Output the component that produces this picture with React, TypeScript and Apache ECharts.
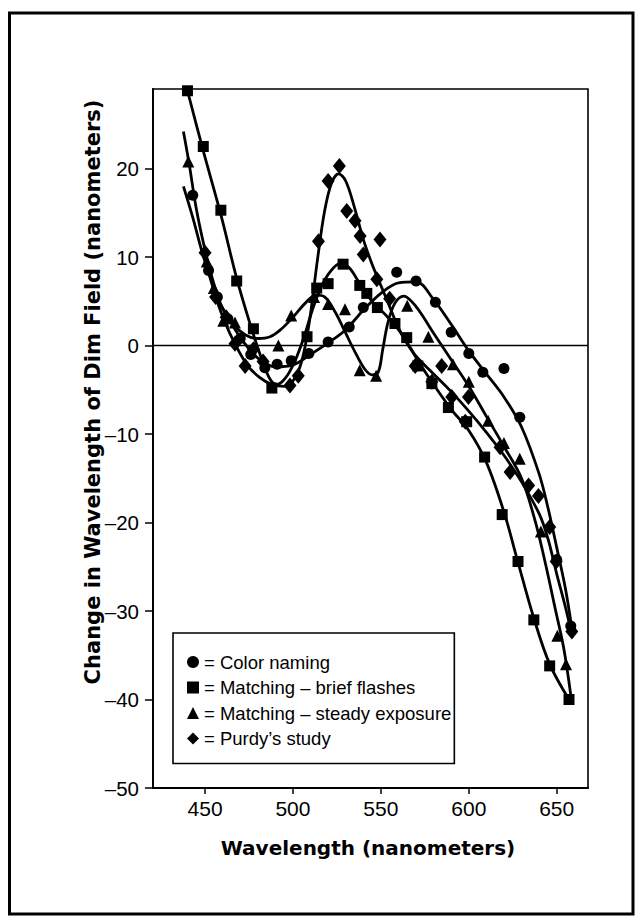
import React, { useEffect, useRef } from "react";
import * as echarts from "echarts";

// ---- tick values ----
const wavelengthTicks = [450, 500, 550, 600, 650];

// ---- Color naming (circles) ----
const colorNamingPoints: [number, number][] = [
  [443, 17], [452, 8.5], [457, 5.5], [463, 3], [470, 0.8], [476, -1], [484, -2.5],
  [491, -2.1], [499, -1.7], [509, -0.9], [520, 0.4], [532, 2.1], [540, 4.3],
  [559, 8.3], [570, 7.3], [581, 4.9], [590, 1.5], [600, -0.9], [608, -3],
  [620, -2.6], [629, -8.1], [650, -24.2], [658, -31.7],
];
const colorNamingCurve: [number, number][] = [
  [437.7, 18], [443, 14.5], [448, 10.8], [453, 7.6], [458, 5], [465, 2.5], [472, 0.4],
  [480, -1.4], [490, -2.4], [500, -2.2], [510, -1], [520, 0.3], [530, 1.8], [540, 4],
  [550, 5.9], [560, 7.1], [570, 7.2], [580, 5.2], [590, 2.4], [600, -0.6], [610, -3.2],
  [620, -5.8], [630, -9.2], [640, -14.5], [645, -18.3], [650, -22.8], [655, -27.5],
  [658.5, -31.8],
];

// ---- Matching – brief flashes (squares) ----
const flashesPoints: [number, number][] = [
  [440, 28.8], [449, 22.5], [459, 15.3], [468, 7.3], [477.5, 1.9], [488, -4.8],
  [508, 1], [513.5, 6.5], [520, 7], [528.5, 9.2], [538, 6.8], [542, 5.9], [548, 4.3],
  [558, 2.5], [564.7, 0.9], [571, -2.3], [579, -4.3], [588.4, -7], [598.8, -8.6],
  [609, -12.6], [619, -19.1], [628, -24.4], [637, -31], [646, -36.2], [657, -40],
];
const flashesCurve: [number, number][] = [
  [440, 28.8], [449, 22], [459, 14.8], [468, 7.6], [476, 2.2], [482, -1.4], [487, -3.8],
  [491, -4.4], [496, -3.6], [501, -1.8], [506, 0.8], [511, 4], [516, 6.6], [521, 8.3],
  [527, 9.3], [532, 8.8], [538, 7], [545, 5], [553, 3.4], [560, 1.8], [566, 0],
  [572, -2], [580, -4.4], [590, -7.2], [600, -9.6], [610, -13.2], [620, -18.8],
  [628, -24.5], [637, -30.8], [646, -36], [657, -40],
];

// ---- Matching – steady exposure (triangles) ----
const steadyPoints: [number, number][] = [
  [440.5, 20.8], [451, 9.5], [455, 6.5], [460.4, 2.8], [467, 2.6], [491.7, 0],
  [499, 3.4], [512, 5.5], [520, 4.7], [529.6, 4.1], [538, -2.8], [547.3, -3.4],
  [565, 4.5], [577, 1], [591, -2.1], [600, -4.1], [611, -8.5], [620, -11],
  [629, -12.8], [641, -21], [650.4, -32.8], [655.3, -36],
];
const steadyCurve: [number, number][] = [
  [437.7, 24.2], [441, 20.5], [445, 15.5], [450, 10.8], [455, 7], [460, 4.2], [466, 2.4],
  [473, 1.2], [480, 0.8], [487, 1], [493, 1.8], [500, 3.2], [507, 4.8], [513, 5.7],
  [518, 5.5], [524, 3.8], [530, 1.4], [536, -1], [541, -2.7], [545, -3.3], [548.5, -3],
  [551, -0.5], [554, 2.6], [558, 4.8], [563, 5.6], [570, 4.4], [580, 1.4], [590, -1.6],
  [600, -4.6], [610, -8], [620, -11.4], [630, -15], [638, -20], [644, -25],
  [649, -29.6], [654, -34.2], [658, -39.5],
];

// ---- Purdy's study (diamonds) ----
const purdyPoints: [number, number][] = [
  [450, 10.5], [456, 5.5], [462, 3.2], [467, 0.2], [472.8, -2.3], [477.5, -0.4],
  [483, -1.8], [498.3, -4.5], [503, -3.4], [514.5, 11.8], [520, 18.6], [526.4, 20.3],
  [530.6, 15.2], [535.3, 14.1], [538.2, 12.4], [540, 10.3], [549.5, 12], [547.7, 7.5],
  [555, 5.3], [569.5, -2.3], [579, -4.1], [584.6, -2.3], [590.3, -5.8], [599.8, -5.8],
  [598, -8.6], [617.8, -11.5], [623.5, -14.3], [634, -15.8], [639.6, -17], [646, -20.5],
  [649.7, -24.4], [658.6, -32.3],
];
const purdyCurve: [number, number][] = [
  [449, 11], [455, 6.2], [461, 2.8], [467, 0.2], [474, -2.2], [481, -3.6], [488, -4.4],
  [495, -4.6], [500, -4], [504, -2.4], [507, 0], [510, 3.6], [514, 9.8], [518, 15.2],
  [522, 18.4], [526, 19.4], [530, 18.6], [535, 15.6], [540, 12], [545, 9.2], [550, 6.8],
  [555, 4.4], [560, 2], [565, 0.2], [570, -1.2], [580, -3.2], [590, -5.2], [600, -7.4],
  [610, -9.8], [620, -12.4], [630, -15.4], [640, -19], [645, -21.8], [650, -25.8],
  [655, -29.6], [659, -33],
];

const seriesNames = [
  "Color naming",
  "Matching – brief flashes",
  "Matching – steady exposure",
  "Purdy’s study",
];

const FONT = "'Liberation Sans', Arial, Helvetica, sans-serif";
const BOLD = "'DejaVu Sans', 'Liberation Sans', sans-serif";

function lineSeries(name: string, data: [number, number][], extra: any = {}) {
  return {
    name,
    type: "line",
    data,
    smooth: 0.35,
    showSymbol: false,
    symbol: "none",
    lineStyle: { color: "#000", width: 2.8 },
    itemStyle: { color: "#000" },
    z: 2,
    silent: true,
    ...extra,
  };
}

function pointSeries(name: string, data: [number, number][], symbol: string, size: any) {
  return {
    name,
    type: "scatter",
    data,
    symbol,
    symbolSize: size,
    itemStyle: { color: "#000", opacity: 1 },
    z: 3,
  };
}

export default function App() {
  const ref = useRef<HTMLDivElement>(null);
  useEffect(() => {
    if (!ref.current) return;
    const chart = echarts.init(ref.current, null, { renderer: "svg" });
    const option: any = {
      animation: false,
      backgroundColor: "#fff",
      grid: {
        left: 153,
        top: 89,
        width: 435,
        height: 699,
        show: true,
        borderColor: "#000",
        borderWidth: 1.6,
        backgroundColor: "transparent",
      },
      xAxis: {
        type: "value",
        min: 420.4,
        max: 667.8,
        axisLine: { show: true, onZero: false, lineStyle: { color: "#000", width: 2 } },
        axisTick: {
          show: true,
          customValues: wavelengthTicks,
          length: 6,
          lineStyle: { color: "#000", width: 1.5 },
        },
        axisLabel: {
          customValues: wavelengthTicks,
          color: "#000",
          fontSize: 21,
          fontFamily: FONT,
          margin: 10,
        },
        splitLine: { show: false },
      },
      yAxis: {
        type: "value",
        min: -50,
        max: 29,
        interval: 10,
        axisLine: { show: true, onZero: false, lineStyle: { color: "#000", width: 2 } },
        axisTick: { show: true, length: 8, lineStyle: { color: "#000", width: 1.5 } },
        axisLabel: {
          color: "#000",
          fontSize: 20.5,
          fontFamily: FONT,
          margin: 14,
          showMaxLabel: false,
          formatter: (v: number) => (v < 0 ? "–" + Math.abs(v) : String(v)),
        },
        splitLine: { show: false },
      },
      legend: {
        orient: "vertical",
        left: 173,
        top: 633,
        selectedMode: false,
        data: [
          { name: seriesNames[0], icon: "circle" },
          { name: seriesNames[1], icon: "rect" },
          { name: seriesNames[2], icon: "triangle" },
          { name: seriesNames[3], icon: "diamond" },
        ],
        formatter: (n: string) => "= " + n,
        itemWidth: 12,
        itemHeight: 12,
        itemGap: 5.5,
        textStyle: { color: "#000", fontSize: 18.5, fontFamily: FONT, lineHeight: 20 },
        borderColor: "#000",
        borderWidth: 1.6,
        padding: [19, 3, 15, 14],
        backgroundColor: "#fff",
      },
      graphic: [
        {
          type: "rect",
          shape: { x: 9.5, y: 13, width: 623.5, height: 901 },
          style: { fill: "none", stroke: "#000", lineWidth: 3 },
          silent: true,
          z: 100,
        },
        {
          type: "text",
          x: 368,
          y: 848,
          style: {
            text: "Wavelength (nanometers)",
            font: `bold 20px ${BOLD}`,
            fill: "#000",
            align: "center",
            verticalAlign: "middle",
          },
        },
        {
          type: "text",
          x: 93,
          y: 392,
          rotation: Math.PI / 2,
          style: {
            text: "Change in Wavelength of Dim Field (nanometers)",
            font: `bold 21px ${BOLD}`,
            fill: "#000",
            align: "center",
            verticalAlign: "middle",
          },
        },
      ],
      series: [
        lineSeries("Color naming curve", colorNamingCurve),
        lineSeries("Brief flashes curve", flashesCurve, {
          markLine: {
            silent: true,
            symbol: ["none", "none"],
            label: { show: false },
            lineStyle: { color: "#000", width: 1.3, type: "solid" },
            data: [{ yAxis: 0 }],
          },
        }),
        lineSeries("Steady exposure curve", steadyCurve),
        lineSeries("Purdy curve", purdyCurve),
        pointSeries(seriesNames[0], colorNamingPoints, "circle", 11),
        pointSeries(seriesNames[1], flashesPoints, "rect", 11),
        pointSeries(seriesNames[2], steadyPoints, "triangle", 12),
        pointSeries(seriesNames[3], purdyPoints, "diamond", [13, 16]),
      ],
    };
    chart.setOption(option);
    return () => chart.dispose();
  }, []);
  return (
    <div
      ref={ref}
      style={{ position: "fixed", left: 0, top: 0, width: 641, height: 923, background: "#fff" }}
    />
  );
}
